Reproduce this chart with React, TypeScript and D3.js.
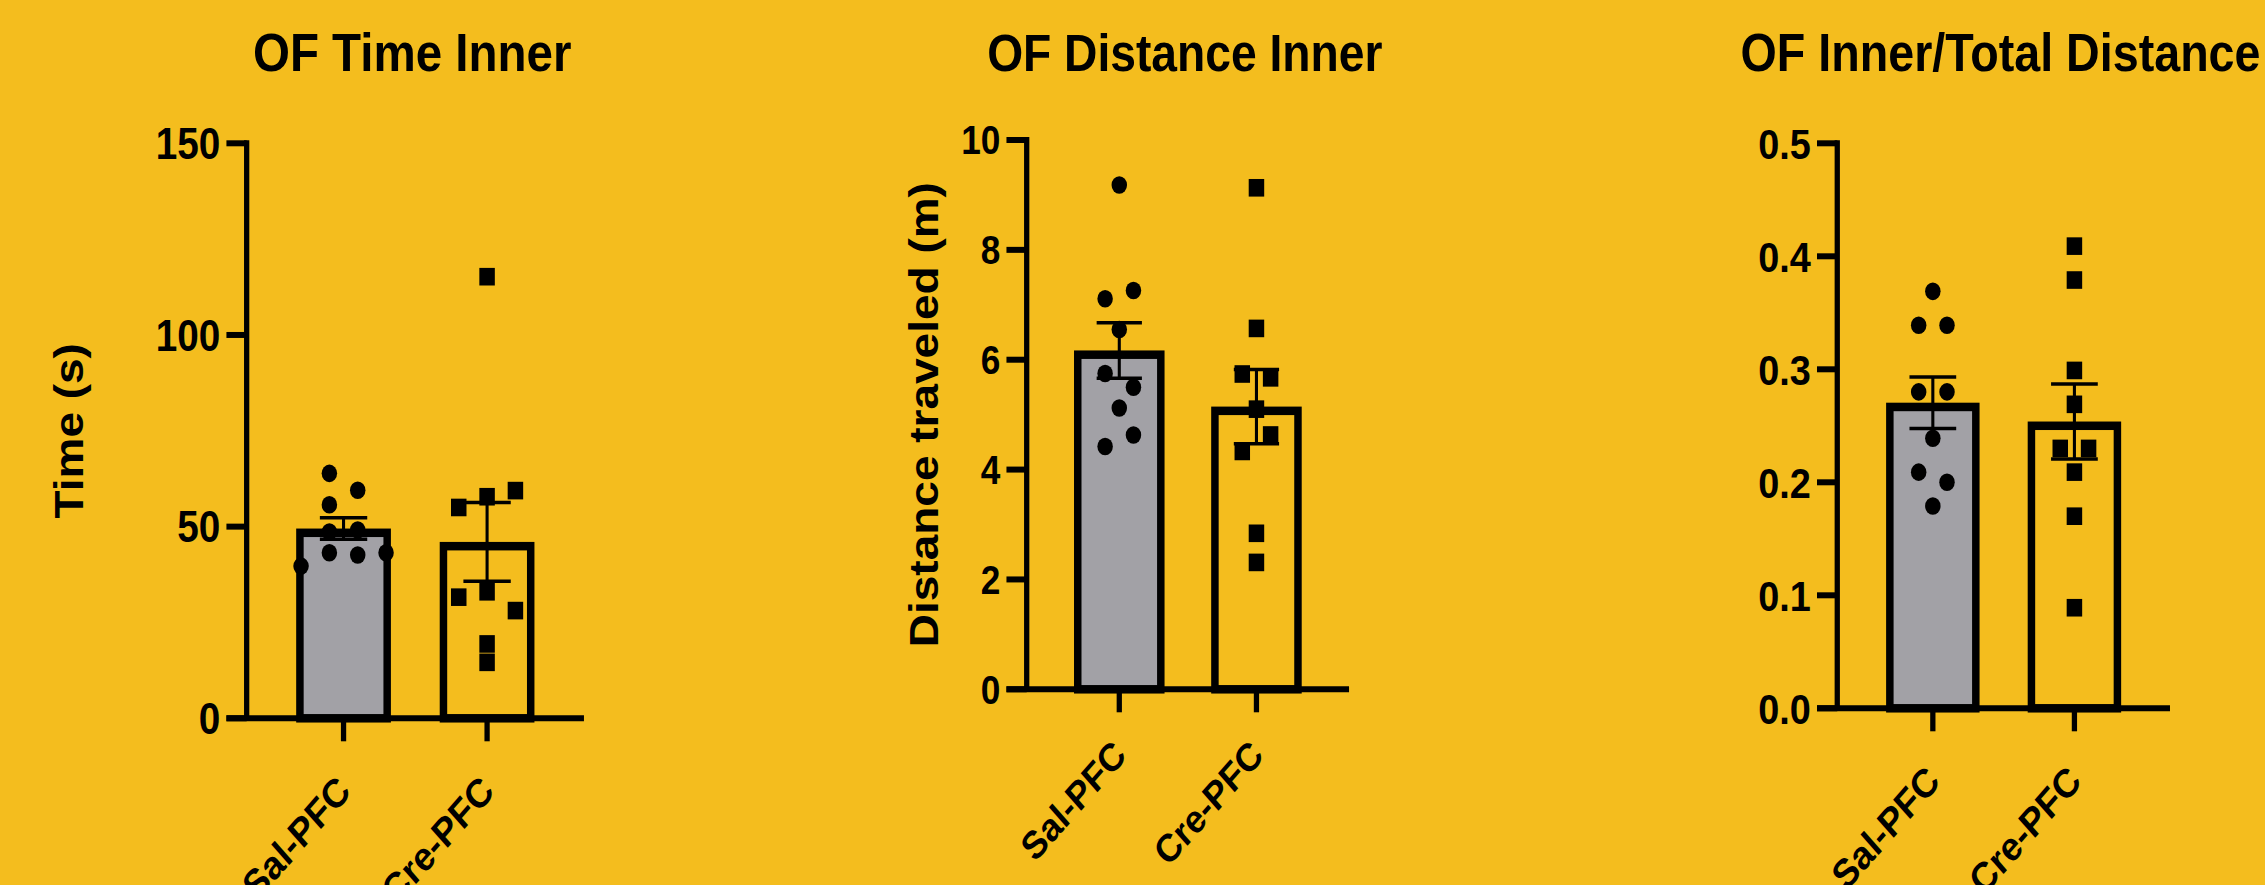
import React from 'react';
import * as d3 from 'd3';

const categories = ['Sal-PFC', 'Cre-PFC'];

// OF Time Inner, seconds
const timeSal = [63.9, 59.5, 55.7, 48.6, 49.1, 43.2, 42.6, 43.2, 39.7];
const timeSalLane = [-1, 1, -1, -1, 1, -1, 1, 3, -3];
const timeCre = [115.2, 55.0, 57.8, 59.4, 31.6, 33.0, 28.1, 19.4, 14.6];
const timeCreLane = [0, -2, 0, 2, -2, 0, 2, 0, 0];
const timeTicks = [0, 50, 100, 150];

// OF Distance Inner, metres
const distSal = [9.18, 7.11, 7.26, 6.55, 5.75, 5.5, 5.12, 4.63, 4.42];
const distSalLane = [0, -1, 1, 0, -1, 1, 0, 1, -1];
const distCre = [9.13, 6.57, 5.74, 5.67, 5.1, 4.63, 4.33, 2.84, 2.31];
const distCreLane = [0, 0, -1, 1, 0, 1, -1, 0, 0];
const distTicks = [0, 2, 4, 6, 8, 10];

// OF Inner/Total Distance, ratio
const ratioSal = [0.369, 0.339, 0.339, 0.28, 0.28, 0.239, 0.209, 0.2, 0.179];
const ratioSalLane = [0, -1, 1, -1, 1, 0, -1, 1, 0];
const ratioCre = [0.409, 0.379, 0.299, 0.269, 0.23, 0.23, 0.209, 0.17, 0.089];
const ratioCreLane = [0, 0, 0, 0, -1, 1, 0, 0, 0];
const ratioTicks = [0, 0.1, 0.2, 0.3, 0.4, 0.5];

// the whole figure is squeezed horizontally
const SX = 0.88;
const BG = '#F4BD1E';
const GREY = '#A2A1A6';
const FONT = '"Liberation Sans", Arial, Helvetica, sans-serif';

const panels = [
    {
        title: 'OF Time Inner', titleSize: 54, yLabel: 'Time (s)', yLabelX: 94,
        groups: [timeSal, timeCre], lanes: [timeSalLane, timeCreLane],
        ticks: timeTicks, fmt: d3.format('d'), max: 150,
        left: 280.3, right: 663.6, top: 143.3, bottom: 718.3,
        tickSize: 44, labelSize: 40, labelDy: 75,
    },
    {
        title: 'OF Distance Inner', titleSize: 52.5, yLabel: 'Distance traveled (m)', yLabelX: 1066,
        groups: [distSal, distCre], lanes: [distSalLane, distCreLane],
        ticks: distTicks, fmt: d3.format('d'), max: 10,
        left: 1166.7, right: 1533, top: 140, bottom: 689.3,
        tickSize: 40, labelSize: 39, labelDy: 68,
    },
    {
        title: 'OF Inner/Total Distance', titleSize: 53, yLabel: null, yLabelX: 0,
        groups: [ratioSal, ratioCre], lanes: [ratioSalLane, ratioCreLane],
        ticks: ratioTicks, fmt: d3.format('.1f'), max: 0.5,
        left: 2087.8, right: 2465.9, top: 143.3, bottom: 708.3,
        tickSize: 43, labelSize: 40, labelDy: 75,
    },
];

function Panel({ cfg }) {
    const x = d3.scalePoint().domain(categories).range([cfg.left, cfg.right]).padding(0.675);
    const y = d3.scaleLinear().domain([0, cfg.max]).range([cfg.bottom, cfg.top]);
    const barW = x.step() * 0.66;
    const bw = 8.5; // bar border
    const tickLen = 23;
    const laneUnit = 16.1;

    return (
        <g>
            <text
                x={(cfg.left - tickLen + cfg.right) / 2 + 8}
                y={71}
                textAnchor="middle"
                fontSize={cfg.titleSize}
                fontWeight="bold"
                fontFamily={FONT}
            >
                {cfg.title}
            </text>

            {cfg.yLabel && (
                <text
                    transform={`translate(${cfg.yLabelX},${(cfg.top + cfg.bottom) / 2}) rotate(-90)`}
                    textAnchor="middle"
                    fontSize={46}
                    fontWeight="bold"
                    fontFamily={FONT}
                >
                    {cfg.yLabel}
                </text>
            )}

            {cfg.groups.map((vals, i) => {
                const cat = categories[i];
                const cx = x(cat);
                const mean = d3.mean(vals);
                const sem = d3.deviation(vals) / Math.sqrt(vals.length);
                return (
                    <g key={cat}>
                        <rect
                            x={cx - barW / 2 + bw / 2}
                            y={y(mean) + bw / 2}
                            width={barW - bw}
                            height={y(0) - y(mean) - bw / 2}
                            fill={i === 0 ? GREY : 'none'}
                            stroke="#000"
                            strokeWidth={bw}
                        />
                        {vals.map((v, j) => {
                            const px = cx + cfg.lanes[i][j] * laneUnit;
                            return i === 0
                                ? <circle key={j} cx={px} cy={y(v)} r={8.8} fill="#000" />
                                : <rect key={j} x={px - 8.8} y={y(v) - 8.8} width={17.6} height={17.6} fill="#000" />;
                        })}
                        <g stroke="#000" strokeWidth={3.5}>
                            <line x1={cx} x2={cx} y1={y(mean - sem)} y2={y(mean + sem)} />
                            <line x1={cx - barW / 4} x2={cx + barW / 4} y1={y(mean + sem)} y2={y(mean + sem)} />
                            <line x1={cx - barW / 4} x2={cx + barW / 4} y1={y(mean - sem)} y2={y(mean - sem)} />
                        </g>
                    </g>
                );
            })}

            {/* axes */}
            <g stroke="#000" strokeWidth={6}>
                <line x1={cfg.left} x2={cfg.left} y1={cfg.top - 3} y2={cfg.bottom} />
                <line x1={cfg.left - tickLen} x2={cfg.right} y1={cfg.bottom} y2={cfg.bottom} />
                {cfg.ticks.map((t) => (
                    <line key={t} x1={cfg.left - tickLen} x2={cfg.left} y1={y(t)} y2={y(t)} />
                ))}
                {categories.map((c) => (
                    <line key={c} x1={x(c)} x2={x(c)} y1={cfg.bottom} y2={cfg.bottom + tickLen} />
                ))}
            </g>

            {cfg.ticks.map((t) => (
                <text
                    key={t}
                    x={cfg.left - tickLen - 7}
                    y={y(t)}
                    dy="0.36em"
                    textAnchor="end"
                    fontSize={cfg.tickSize}
                    fontWeight="bold"
                    fontFamily={FONT}
                >
                    {cfg.fmt(t)}
                </text>
            ))}

            {categories.map((c) => (
                <text
                    key={c}
                    transform={`translate(${x(c) + 10},${cfg.bottom + cfg.labelDy}) rotate(-45)`}
                    textAnchor="end"
                    fontSize={cfg.labelSize}
                    fontWeight="bold"
                    fontFamily={FONT}
                >
                    {c}
                </text>
            ))}
        </g>
    );
}

export default function App() {
    const width = 2265;
    const height = 885;
    return (
        <svg
            width={width}
            height={height}
            style={{ position: 'absolute', left: 0, top: 0, display: 'block' }}
        >
            <rect width={width} height={height} fill={BG} />
            <g transform={`scale(${SX},1)`}>
                {panels.map((p) => (
                    <Panel key={p.title} cfg={p} />
                ))}
            </g>
        </svg>
    );
}
